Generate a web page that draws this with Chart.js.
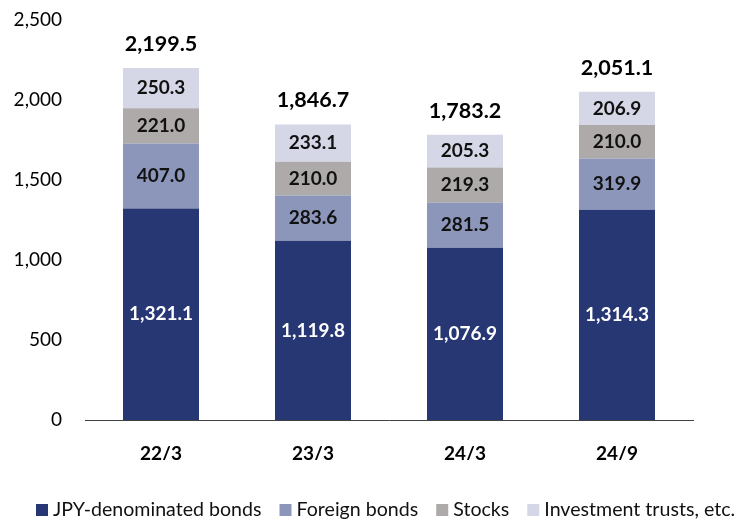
<!DOCTYPE html>
<html>
<head>
<meta charset="utf-8">
<script src="https://cdn.jsdelivr.net/npm/chart.js@4/dist/chart.umd.min.js"></script>
<style>
  html, body { margin: 0; padding: 0; background: #fff; }
  #wrap { width: 736px; height: 519px; }
</style>
</head>
<body>
<div id="wrap"><canvas id="chart" width="736" height="519"></canvas></div>
<script>
// Data
const categories = ['22/3', '23/3', '24/3', '24/9'];
const jpyBonds = [1321.1, 1119.8, 1076.9, 1314.3];
const foreignBonds = [407.0, 283.6, 281.5, 319.9];
const stocks = [221.0, 210.0, 219.3, 210.0];
const investmentTrusts = [250.3, 233.1, 205.3, 206.9];
const totals = [2199.5, 1846.7, 1783.2, 2051.1];
const yTicks = [0, 500, 1000, 1500, 2000, 2500];

const FONT = 'Lato, "Open Sans", sans-serif';

function fmt(v) {
    return v.toLocaleString('en-US', { minimumFractionDigits: 1, maximumFractionDigits: 1 });
}

// Value labels inside segments and totals above bars
const labelPlugin = {
    id: 'barLabels',
    afterDatasetsDraw(chart) {
        const ctx = chart.ctx;
        ctx.save();
        ctx.textAlign = 'center';
        ctx.textBaseline = 'middle';
        chart.data.datasets.forEach((ds, i) => {
            const meta = chart.getDatasetMeta(i);
            meta.data.forEach((bar, j) => {
                ctx.font = 'bold 19px ' + FONT;
                ctx.fillStyle = i === 0 ? '#ffffff' : '#111111';
                ctx.fillText(fmt(ds.data[j]), bar.x, (bar.y + bar.base) / 2);
            });
        });
        const topMeta = chart.getDatasetMeta(chart.data.datasets.length - 1);
        topMeta.data.forEach((bar, j) => {
            ctx.font = 'bold 21.5px ' + FONT;
            ctx.fillStyle = '#000000';
            ctx.fillText(fmt(totals[j]), bar.x, bar.y - 24);
        });
        ctx.restore();
    }
};

// Single-row legend at the bottom
const legendPlugin = {
    id: 'rowLegend',
    afterDraw(chart) {
        const ctx = chart.ctx;
        ctx.save();
        ctx.font = '19.6px ' + FONT;
        ctx.textBaseline = 'middle';
        ctx.textAlign = 'left';
        let x = 36;
        const y = 510;
        chart.data.datasets.forEach(ds => {
            ctx.fillStyle = ds.backgroundColor;
            ctx.fillRect(x, y - 6, 12, 12);
            ctx.fillStyle = '#111111';
            ctx.fillText(ds.label, x + 17, y);
            x += 17 + ctx.measureText(ds.label).width + 18;
        });
        ctx.restore();
    }
};

new Chart(document.getElementById('chart').getContext('2d'), {
    type: 'bar',
    data: {
        labels: categories,
        datasets: [
            { label: 'JPY-denominated bonds', data: jpyBonds, backgroundColor: '#263773' },
            { label: 'Foreign bonds', data: foreignBonds, backgroundColor: '#8c96ba' },
            { label: 'Stocks', data: stocks, backgroundColor: '#adaaa9' },
            { label: 'Investment trusts, etc.', data: investmentTrusts, backgroundColor: '#d5d7e6' }
        ]
    },
    options: {
        responsive: false,
        animation: false,
        categoryPercentage: 1.0,
        barPercentage: 0.5,
        layout: {
            padding: { top: 20, right: 43, left: 0, bottom: 59 }
        },
        plugins: {
            legend: { display: false },
            tooltip: { enabled: false }
        },
        scales: {
            x: {
                stacked: true,
                grid: { display: false },
                border: { color: '#404040', width: 1 },
                afterFit: scale => { scale.height = 40; },
                ticks: {
                    font: { family: FONT, size: 19, weight: 'bold' },
                    color: '#000000',
                    padding: 14
                }
            },
            y: {
                stacked: true,
                min: 0,
                max: 2500,
                afterBuildTicks: axis => {
                    axis.ticks = yTicks.map(v => ({ value: v }));
                },
                afterFit: scale => {
                    scale.width = 85;
                    scale.paddingTop = 0;
                    scale.paddingBottom = 0;
                },
                grid: { display: false },
                border: { display: false },
                ticks: {
                    font: { family: FONT, size: 19 },
                    color: '#000000',
                    padding: 15,
                    callback: v => v.toLocaleString('en-US')
                }
            }
        }
    },
    plugins: [labelPlugin, legendPlugin]
});
</script>
</body>
</html>
